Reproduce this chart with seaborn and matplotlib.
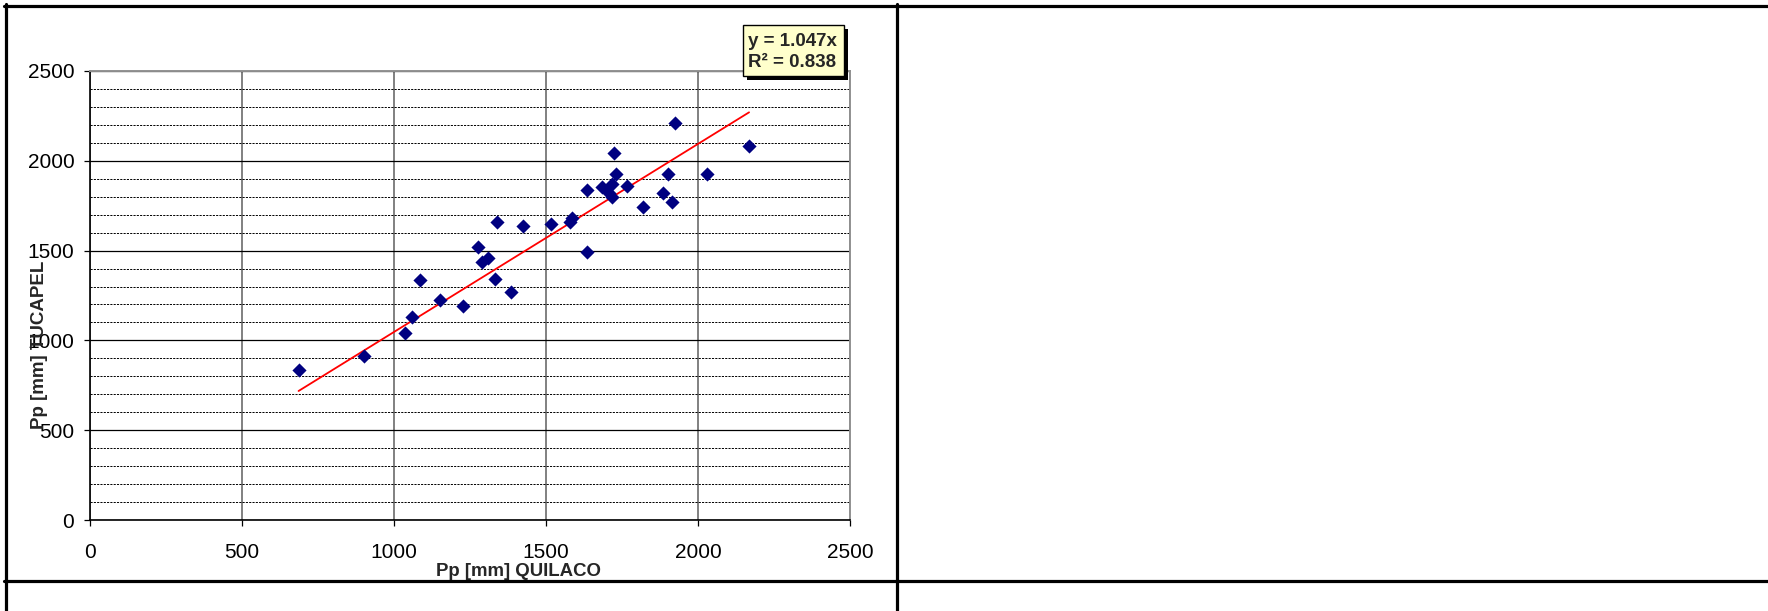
import numpy as np
import pandas as pd
import seaborn as sns
import matplotlib.pyplot as plt
from matplotlib.patches import Rectangle
from matplotlib.lines import Line2D

# Annual precipitation, Quilaco vs Tucapel stations (mm)
quilaco = [686, 901, 1036, 1060, 1084, 1151, 1226, 1277, 1291, 1308, 1332,
           1340, 1385, 1423, 1518, 1578, 1587, 1634, 1634, 1685, 1707, 1718,
           1718, 1723, 1731, 1766, 1819, 1884, 1901, 1916, 1924, 2031, 2168]
tucapel = [833, 914, 1041, 1130, 1335, 1227, 1190, 1520, 1439, 1461, 1344,
           1658, 1268, 1636, 1647, 1658, 1684, 1836, 1491, 1855, 1818, 1870,
           1799, 2041, 1926, 1862, 1743, 1818, 1926, 1770, 2212, 1926, 2085]
slope = 1.047
r2 = 0.838
x_label = 'Pp [mm] QUILACO'
y_label = 'Pp [mm] TUCAPEL'
ticks = [0, 500, 1000, 1500, 2000, 2500]

W, H = 1768, 611   # figure size in pixels


def fx(px):
    return px / W


def fy(py):
    # pixel rows counted from the top
    return 1 - py / H


def main():
    sns.set_style('white')
    plt.rcParams['font.family'] = ['Liberation Sans', 'DejaVu Sans']

    fig = plt.figure(figsize=(W / 100, H / 100), dpi=100)
    ax = fig.add_axes([fx(90), fy(520), fx(760), 449 / H])

    data = pd.DataFrame({'x': quilaco, 'y': tucapel})
    sns.scatterplot(data=data, x='x', y='y', marker='D', s=52, color='#000080',
                    linewidth=0, ax=ax, zorder=4)

    # trend line through the origin over the data range
    xs = np.array([min(quilaco), max(quilaco)])
    ax.plot(xs, slope * xs, color='#ff0000', lw=1.3, zorder=3)

    ax.set_xlim(0, 2500)
    ax.set_ylim(0, 2500)
    ax.set_xticks(ticks)
    ax.set_yticks(ticks)
    ax.set_yticks(np.arange(0, 2501, 100), minor=True)
    ax.set_xlabel('')
    ax.set_ylabel('')

    ax.grid(which='major', axis='y', color='black', lw=0.9, zorder=1)
    ax.grid(which='minor', axis='y', color='black', lw=0.7,
            linestyle=(0, (2.2, 1.2)), zorder=1)
    ax.grid(which='major', axis='x', color='#808080', lw=1.4, zorder=1)
    ax.set_axisbelow(True)

    for side in ['left', 'bottom']:
        ax.spines[side].set_color('black')
        ax.spines[side].set_linewidth(1.2)
    for side in ['top', 'right']:
        ax.spines[side].set_color('#909090')
        ax.spines[side].set_linewidth(1.4)

    ax.tick_params(which='major', direction='out', length=4.3, width=0.9,
                   color='black', labelsize=15, labelcolor='black')
    ax.tick_params(axis='x', pad=12.0, bottom=True)
    ax.tick_params(axis='y', pad=7, left=True)
    ax.tick_params(which='minor', length=0)

    fig.text(fx(519), fy(571), x_label, ha='center', va='center',
             fontsize=13.4, fontweight='bold')
    fig.text(fx(40), fy(345), y_label, ha='center', va='center',
             fontsize=13.5, fontweight='bold', rotation=90, zorder=5)

    # equation box with shadow
    fig.add_artist(Rectangle((fx(747), fy(80)), fx(101), 51 / H,
                             transform=fig.transFigure, facecolor='black',
                             edgecolor='none', zorder=6))
    fig.add_artist(Rectangle((fx(743), fy(76)), fx(101), 51 / H,
                             transform=fig.transFigure, facecolor='#ffffcc',
                             edgecolor='black', lw=1.0, zorder=7))
    fig.text(fx(748), fy(52), 'y = %.3fx\nR² = %.3f' % (slope, r2),
             ha='left', va='center', fontsize=13.5, fontweight='bold',
             linespacing=1.3, zorder=8)

    # table cell borders around the chart
    border = dict(color='black', lw=2.3, transform=fig.transFigure, zorder=9)
    fig.add_artist(Line2D([fx(4), 1], [fy(5.5), fy(5.5)], **border))
    fig.add_artist(Line2D([fx(5.5), fx(5.5)], [fy(4), 0], **border))
    fig.add_artist(Line2D([fx(896.5), fx(896.5)], [fy(4), 0], **border))
    fig.add_artist(Line2D([fx(4), 1], [fy(581), fy(581)], **border))

    fig.savefig('out.png', dpi=100, facecolor='white')


if __name__ == '__main__':
    main()
